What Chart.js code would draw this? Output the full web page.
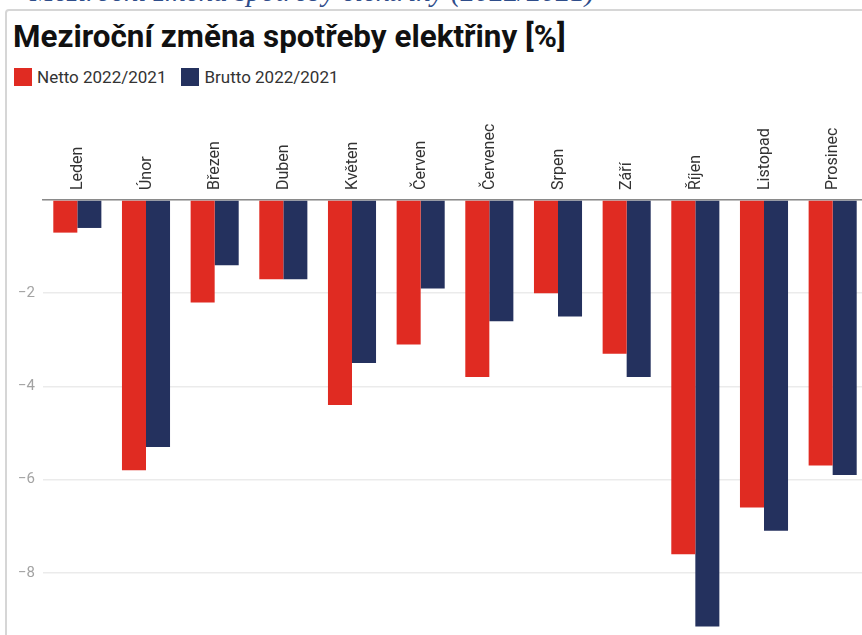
<!DOCTYPE html>
<html lang="cs">
<head>
<meta charset="utf-8">
<title>Meziroční změna spotřeby elektřiny</title>
<script src="https://cdn.jsdelivr.net/npm/chart.js@4.4.1/dist/chart.umd.min.js"></script>
<style>
    body {
        margin: 0;
        width: 862px;
        height: 635px;
        overflow: hidden;
        background: #fff;
        position: relative;
        font-family: Roboto, "Noto Sans", sans-serif;
    }
    .popisek {
        position: absolute;
        left: 30px;
        top: -23px;
        font: italic 29px/29px "Liberation Serif", serif;
        color: #2f4d8a;
        white-space: nowrap;
    }
    .ramecek {
        position: absolute;
        left: 5px;
        top: 9px;
        width: 900px;
        height: 700px;
        border: 2px solid #d6d6d6;
        border-radius: 4px;
    }
    .titulek {
        position: absolute;
        left: 13px;
        top: 19px;
        font: bold 31.4px/36px Roboto, sans-serif;
        color: #111;
        white-space: nowrap;
    }
    .legenda {
        position: absolute;
        left: 14px;
        top: 68px;
        display: flex;
        font: 17px/18px Roboto, sans-serif;
        color: #333;
        white-space: nowrap;
    }
    .legenda span.box {
        display: inline-block;
        width: 18px;
        height: 18px;
        margin-right: 5px;
    }
    .legenda .polozka {
        display: flex;
        align-items: center;
        margin-right: 15px;
    }
    .graf {
        position: absolute;
        left: 7px;
        top: 100px;
        width: 860px;
        height: 583px;
    }
</style>
</head>
<body>
<div class="popisek">Meziroční změna spotřeby elektřiny (2022/2021)</div>
<div class="ramecek"></div>
<div class="titulek">Meziroční změna spotřeby elektřiny [%]</div>
<div class="legenda" id="legenda"></div>
<div class="graf"><canvas id="grafico"></canvas></div>

<script>
// mesi (asse X)
var mesi = ["Leden", "Únor", "Březen", "Duben", "Květen", "Červen",
    "Červenec", "Srpen", "Září", "Říjen", "Listopad", "Prosinec"];

// netto 2022/2021 [%]
var netto = [-0.7, -5.8, -2.2, -1.7, -4.4, -3.1, -3.8, -2.0, -3.3, -7.6, -6.6, -5.7];

// brutto 2022/2021 [%]
var brutto = [-0.6, -5.3, -1.4, -1.7, -3.5, -1.9, -2.6, -2.5, -3.8, -9.15, -7.1, -5.9];

var nomiSerie = ["Netto 2022/2021", "Brutto 2022/2021"];
var coloriSerie = ["#e02b22", "#24315e"];

// tacche asse Y
var tickY = [0, -2, -4, -6, -8, -10];

// legenda in html
var legenda = document.getElementById("legenda");
for (var i = 0; i < nomiSerie.length; i++) {
    var polozka = document.createElement("div");
    polozka.className = "polozka";
    polozka.innerHTML = '<span class="box" style="background:' + coloriSerie[i] + '"></span>' + nomiSerie[i];
    legenda.appendChild(polozka);
}

Chart.defaults.font.family = "Roboto";

var ctx = document.getElementById("grafico");
var chart = new Chart(ctx, {
    type: "bar",
    data: {
        labels: mesi,
        datasets: [{
            label: nomiSerie[0],
            data: netto,
            backgroundColor: coloriSerie[0],
            borderWidth: 0
        }, {
            label: nomiSerie[1],
            data: brutto,
            backgroundColor: coloriSerie[1],
            borderWidth: 0
        }]
    },
    options: {
        responsive: true,
        maintainAspectRatio: false,
        animation: false,
        layout: { padding: 0 },
        plugins: {
            legend: { display: false },
            title: { display: false },
            tooltip: { enabled: false }
        },
        datasets: {
            bar: {
                categoryPercentage: 0.7,
                barPercentage: 1.0
            }
        },
        scales: {
            x: {
                position: "top",
                grid: { display: false, drawTicks: false },
                border: { display: true, color: "#8a8a8a", width: 1.5 },
                ticks: {
                    color: "#333",
                    font: { size: 16 },
                    minRotation: 90,
                    maxRotation: 90,
                    padding: 10,
                    labelOffset: 20, // le etichette ruotate finivano spostate a sinistra
                    autoSkip: false
                },
                afterFit: function (asse) {
                    asse.height = 100;
                }
            },
            y: {
                min: tickY[tickY.length - 1],
                max: tickY[0],
                grid: { color: "#ebebeb", lineWidth: 1.5, drawTicks: false },
                border: { display: false },
                ticks: {
                    stepSize: 2,
                    color: "#a3a3a3",
                    font: { size: 15 },
                    padding: 8,
                    callback: function (valore) {
                        if (valore === 0) return "";
                        return String(valore).replace("-", "\u2212");
                    }
                },
                afterFit: function (asse) {
                    asse.width = 36;
                }
            }
        }
    }
});
</script>
</body>
</html>
